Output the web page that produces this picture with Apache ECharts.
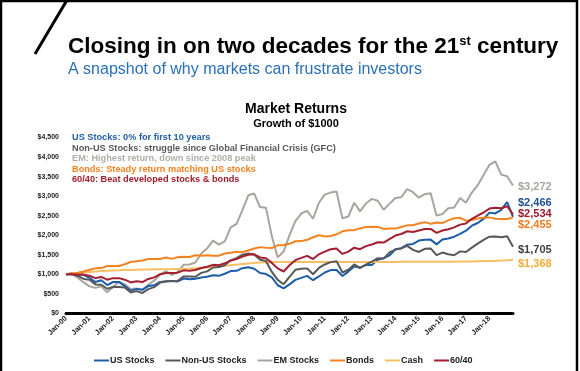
<!DOCTYPE html>
<html><head><meta charset="utf-8">
<script src="https://cdn.jsdelivr.net/npm/echarts@6/dist/echarts.min.js"></script>
<style>html,body{margin:0;padding:0;background:#fff}#c{width:580px;height:371px}</style>
</head><body><div id="c"></div>
<script>
// Year tick labels (one category every quarter; a label on each January)
const tickLabels = ['Jan-00','Jan-01','Jan-02','Jan-03','Jan-04','Jan-05','Jan-06','Jan-07','Jan-08','Jan-09',
  'Jan-10','Jan-11','Jan-12','Jan-13','Jan-14','Jan-15','Jan-16','Jan-17','Jan-18'];
const seriesNames = ['US Stocks','Non-US Stocks','EM Stocks','Bonds','Cash','60/40'];

// Growth of $1000, quarterly readings from Jan-00 to Dec-18 (77 points)
const usStocks = [1000,
  1022,996,986,909, 801,848,723,801, 803,695,575,624, 604,697,716,803, 817,830,815,890,
  871,883,915,934, 973,959,1013,1081, 1088,1156,1180,1140, 1032,1004,920,718, 639,740,856,908,
  957,847,943,1045, 1106,1107,953,1067, 1201,1167,1241,1238, 1368,1407,1481,1639, 1668,1755,1775,1863,
  1881,1886,1764,1889, 1914,1960,2035,2115, 2243,2312,2416,2577, 2557,2645,2849,2466];
const nonUsStocks = [1000,
  996,957,879,858, 740,731,628,674, 676,662,533,567, 521,620,671,786, 820,822,824,945,
  944,936,1034,1073, 1173,1182,1229,1356, 1410,1500,1532,1507, 1372,1341,1059,855, 744,935,1113,1138,
  1150,1000,1160,1250, 1310,1335,1045,1115, 1250,1165,1245,1325, 1410,1400,1560,1630, 1660,1725,1625,1570,
  1650,1660,1490,1555, 1510,1485,1585,1570, 1680,1785,1880,1960, 1965,1945,1970,1705];
const emStocks = [1000,
  1020,910,790,690, 650,690,540,676, 800,740,620,634, 600,730,840,988, 1080,980,1060,1241,
  1250,1300,1530,1663, 1860,1760,1840,2199, 2290,2640,3020,3065, 2720,2700,1970,1431, 1580,2000,2360,2554,
  2620,2420,2830,3037, 3090,3120,2430,2478, 2830,2610,2810,2929, 2880,2650,2800,2950, 2970,3180,3100,2960,
  3050,3070,2500,2540, 2690,2710,2950,2830, 3090,3280,3540,3800, 3890,3550,3510,3272];
const bonds = [1000,
  1022,1039,1071,1116, 1150,1157,1210,1211, 1212,1257,1314,1335, 1354,1388,1387,1390, 1427,1393,1437,1450,
  1443,1486,1476,1485, 1476,1475,1531,1550, 1573,1565,1609,1658, 1694,1677,1669,1745, 1747,1778,1844,1848,
  1881,1947,1996,1969, 1977,2022,2099,2123, 2129,2174,2209,2213, 2211,2160,2173,2168, 2207,2251,2256,2297,
  2334,2294,2322,2310, 2379,2432,2444,2371, 2390,2424,2443,2455, 2418,2413,2413,2455];
const cash = [1000,
  1013,1027,1042,1058, 1072,1083,1092,1098, 1102,1107,1111,1116, 1119,1122,1125,1127, 1130,1132,1136,1141,
  1148,1156,1165,1175, 1188,1201,1216,1231, 1246,1261,1276,1289, 1298,1303,1308,1310, 1311,1311,1312,1312,
  1313,1313,1313,1313, 1314,1314,1314,1314, 1315,1315,1315,1315, 1316,1316,1316,1316, 1317,1317,1317,1317,
  1318,1318,1318,1318, 1320,1322,1324,1326, 1329,1333,1337,1341, 1346,1352,1359,1368];
const sixtyForty = [1000,
  1000,990,990,960, 900,930,860,900, 900,860,790,820, 800,880,920,1000, 1030,1030,1040,1100,
  1090,1110,1160,1190, 1240,1230,1280,1350, 1390,1450,1500,1510, 1430,1410,1290,1150, 1070,1230,1360,1420,
  1470,1390,1510,1580, 1640,1660,1520,1580, 1680,1640,1720,1760, 1820,1810,1900,1990, 2030,2100,2080,2120,
  2160,2160,2060,2120, 2150,2200,2270,2300, 2420,2500,2580,2680, 2700,2690,2740,2534];

const notes = [
  ['US Stocks: 0% for first 10 years', '#1f5fa8'],
  ['Non-US Stocks: struggle since Global Financial Crisis (GFC)', '#595959'],
  ['EM: Highest return, down since 2008 peak', '#b3aea8'],
  ['Bonds: Steady return matching US stocks', '#f58220'],
  ['60/40: Beat developed stocks & bonds', '#a01f2d']
];

const FONT = '"Liberation Sans", Arial, sans-serif';
const colors = ['#1c5da8', '#585858', '#a9a49e', '#f58220', '#f8be62', '#a51f2f'];
const labelColors = ['#1f4f8f', '#3f3f3f', '#a9a49e', '#f47a1c', '#f0ad35', '#9a1b2b'];
const labelOffsets = [-14, 3, 1, 8, 4, 0];
const allData = [usStocks, nonUsStocks, emStocks, bonds, cash, sixtyForty];

const categories = usStocks.map((_, i) => (i % 4 === 0 && i / 4 < tickLabels.length) ? tickLabels[i / 4] : 'q' + i);

const chart = echarts.init(document.getElementById('c'), null, {renderer: 'canvas'});

const richNotes = {};
notes.forEach((n, i) => { richNotes['n' + i] = {fill: n[1], fontSize: 9.2, fontWeight: 'bold', fontFamily: FONT, lineHeight: 10.5}; });

chart.setOption({
  animation: false,
  backgroundColor: '#fff',
  grid: {left: 66, right: 67, top: 137.5, bottom: 57.7},
  xAxis: {
    type: 'category', data: categories, boundaryGap: false,
    axisLine: {lineStyle: {color: '#000', width: 3}},
    axisTick: {show: false},
    axisLabel: {
      interval: (i) => i % 4 === 0 && i / 4 < tickLabels.length,
      rotate: 45, margin: 4, fontSize: 7.5, fontWeight: 'bold', color: '#222', fontFamily: FONT
    },
    splitLine: {show: false}
  },
  yAxis: {
    type: 'value', min: 0, max: 4500, interval: 500,
    axisLine: {show: false}, axisTick: {show: false}, splitLine: {show: false},
    axisLabel: {margin: 7, fontSize: 7, fontWeight: 'bold', color: '#222', fontFamily: FONT,
      formatter: (v) => '$' + v.toLocaleString('en-US')}
  },
  legend: {
    data: seriesNames, left: 89, top: 351, icon: 'rect', itemWidth: 15, itemHeight: 2, itemGap: 11,
    textStyle: {fontSize: 9, fontWeight: 'bold', color: '#222', fontFamily: FONT, padding: [0, 0, 0, -4]}
  },
  series: seriesNames.map((name, i) => ({
    name, type: 'line', data: allData[i], showSymbol: false, symbol: 'none',
    lineStyle: {color: colors[i], width: 2}, itemStyle: {color: colors[i]},
    z: [2, 3, 1, 4, 2, 5][i],
    endLabel: {show: true, distance: 5, offset: [0, labelOffsets[i]], color: labelColors[i],
      fontSize: 11, fontWeight: 'bold', fontFamily: FONT,
      formatter: (p) => '$' + Number(p.value).toLocaleString('en-US')}
  })),
  graphic: [
    {type: 'rect', silent: true, shape: {x: 1, y: 1, width: 576, height: 400},
      style: {fill: 'none', stroke: '#000', lineWidth: 2.5}},
    {type: 'line', silent: true, shape: {x1: 67, y1: 0, x2: 35, y2: 54},
      style: {stroke: '#000', lineWidth: 3}},
    {type: 'text', left: 68, top: 35, silent: true,
      style: {text: '{a|Closing in on two decades for the 21}{s|st}{a| century}',
        rich: {a: {fontSize: 22.5, fontWeight: 'bold', fontFamily: FONT, fill: '#000', lineHeight: 24},
               s: {fontSize: 13, fontWeight: 'bold', fontFamily: FONT, fill: '#000', lineHeight: 14, verticalAlign: 'top'}}}},
    {type: 'text', left: 68, top: 62, silent: true,
      style: {text: 'A snapshot of why markets can frustrate investors', fontSize: 16, fontFamily: FONT, fill: '#2a70b8'}},
    {type: 'text', x: 296, y: 109, silent: true,
      style: {text: 'Market Returns', fontSize: 14, fontWeight: 'bold', fontFamily: FONT, fill: '#000', align: 'center', verticalAlign: 'middle'}},
    {type: 'text', x: 296, y: 124, silent: true,
      style: {text: 'Growth of $1000', fontSize: 11, fontWeight: 'bold', fontFamily: FONT, fill: '#000', align: 'center', verticalAlign: 'middle'}},
    {type: 'text', x: 72, y: 132.5, silent: true,
      style: {text: notes.map((n, i) => '{n' + i + '|' + n[0] + '}').join('\n'), rich: richNotes}}
  ]
});
</script></body></html>
